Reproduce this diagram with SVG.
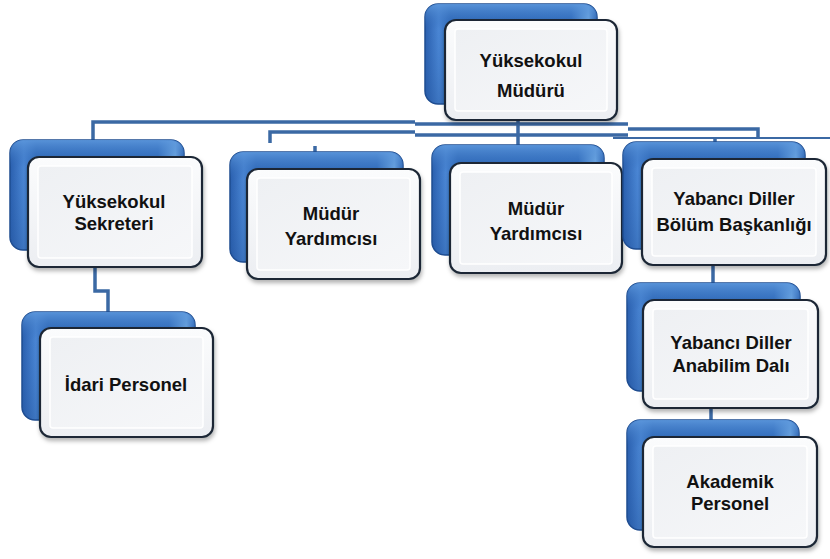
<svg xmlns="http://www.w3.org/2000/svg" width="830" height="559" viewBox="0 0 830 559">
<defs>
<linearGradient id="blue" x1="0" y1="0" x2="1" y2="0">
<stop offset="0" stop-color="#2a5fae"/>
<stop offset="0.08" stop-color="#4a86d4"/>
<stop offset="0.15" stop-color="#2e68b8"/>
<stop offset="0.85" stop-color="#306cbd"/>
<stop offset="0.95" stop-color="#7db8ee"/>
<stop offset="1" stop-color="#2a5fae"/>
</linearGradient>
<linearGradient id="blueTop" x1="0" y1="0" x2="0" y2="1">
<stop offset="0" stop-color="#5c97dc" stop-opacity="0.9"/>
<stop offset="0.25" stop-color="#2f68b6" stop-opacity="0"/>
<stop offset="1" stop-color="#1d4c92" stop-opacity="0.3"/>
</linearGradient>
<linearGradient id="white" x1="0" y1="0" x2="0" y2="1">
<stop offset="0" stop-color="#fbfcfd"/>
<stop offset="1" stop-color="#eceef2"/>
</linearGradient>
<linearGradient id="inner" x1="0" y1="0" x2="1" y2="1">
<stop offset="0" stop-color="#eef0f3"/>
<stop offset="1" stop-color="#f6f7f9"/>
</linearGradient>
<filter id="sh" x="-10%" y="-10%" width="125%" height="130%">
<feDropShadow dx="1" dy="3" stdDeviation="2" flood-color="#000" flood-opacity="0.3"/>
</filter>
</defs>
<style>
.back{fill:url(#blue);stroke:#1e4c90;stroke-width:1.5}
.backhl{fill:url(#blueTop)}
.front{fill:url(#white);stroke:#1c2836;stroke-width:2.2;filter:url(#sh)}
.bevel{fill:url(#inner);stroke:#ffffff;stroke-width:1.5}
.t{font-family:"Liberation Sans",Arial,sans-serif;font-weight:bold;font-size:18.5px;fill:#111;text-anchor:middle}
.c{fill:none;stroke:#3b69a4;stroke-width:3.5}
.c2{fill:none;stroke:#3b69a4;stroke-width:2}
</style>
<g id="connectors">
<path class="c" d="M93,142 V122 H415"/>
<path class="c" d="M415,124 H628"/>
<path class="c" d="M270,143 V132 H415"/>
<path class="c" d="M415,135 H628"/>
<path class="c" d="M628,129 H758 V137"/>
<path class="c2" d="M613,138 H830"/>
<path class="c" d="M518,118 V146"/>
<path class="c" d="M715,138 V143"/>
<path class="c" d="M315,146 V153"/>
<path class="c" d="M95,266 V291 H108 V313"/>
<path class="c" d="M713,264 V284"/>
<path class="c" d="M711,407 V421"/>
</g>
<g id="n_mudur">
<rect class="back" x="425" y="4" width="172" height="100" rx="13"/>
<rect class="backhl" x="425" y="4" width="172" height="100" rx="13"/>
<rect class="front" x="445" y="20" width="172" height="100" rx="11"/>
<rect class="bevel" x="455" y="29" width="152" height="82" rx="3"/>
<text class="t" x="531" y="67">Yüksekokul</text>
<text class="t" x="531" y="97">Müdürü</text>
</g>
<g id="n_sekreter">
<rect class="back" x="10" y="140" width="174" height="110" rx="13"/>
<rect class="backhl" x="10" y="140" width="174" height="110" rx="13"/>
<rect class="front" x="28" y="157" width="174" height="110" rx="11"/>
<rect class="bevel" x="38" y="166" width="154" height="92" rx="3"/>
<text class="t" x="114" y="208">Yüksekokul</text>
<text class="t" x="114" y="230">Sekreteri</text>
</g>
<g id="n_yard1">
<rect class="back" x="230" y="152" width="173" height="110" rx="13"/>
<rect class="backhl" x="230" y="152" width="173" height="110" rx="13"/>
<rect class="front" x="247" y="169" width="173" height="110" rx="11"/>
<rect class="bevel" x="257" y="178" width="153" height="92" rx="3"/>
<text class="t" x="331" y="220">Müdür</text>
<text class="t" x="331" y="245">Yardımcısı</text>
</g>
<g id="n_yard2">
<rect class="back" x="432" y="145" width="172" height="110" rx="13"/>
<rect class="backhl" x="432" y="145" width="172" height="110" rx="13"/>
<rect class="front" x="450" y="163" width="172" height="110" rx="11"/>
<rect class="bevel" x="460" y="172" width="152" height="92" rx="3"/>
<text class="t" x="536" y="215">Müdür</text>
<text class="t" x="536" y="240">Yardımcısı</text>
</g>
<g id="n_bolum">
<rect class="back" x="623" y="142" width="182" height="107" rx="13"/>
<rect class="backhl" x="623" y="142" width="182" height="107" rx="13"/>
<rect class="front" x="642" y="159" width="184" height="106" rx="11"/>
<rect class="bevel" x="652" y="168" width="164" height="88" rx="3"/>
<text class="t" x="734" y="205">Yabancı Diller</text>
<text class="t" x="734" y="231">Bölüm Başkanlığı</text>
</g>
<g id="n_idari">
<rect class="back" x="22" y="312" width="173" height="108" rx="13"/>
<rect class="backhl" x="22" y="312" width="173" height="108" rx="13"/>
<rect class="front" x="40" y="328" width="173" height="109" rx="11"/>
<rect class="bevel" x="50" y="337" width="153" height="91" rx="3"/>
<text class="t" x="126" y="391">İdari Personel</text>
</g>
<g id="n_anabilim">
<rect class="back" x="627" y="283" width="173" height="108" rx="13"/>
<rect class="backhl" x="627" y="283" width="173" height="108" rx="13"/>
<rect class="front" x="643" y="300" width="175" height="108" rx="11"/>
<rect class="bevel" x="653" y="309" width="155" height="90" rx="3"/>
<text class="t" x="731" y="349">Yabancı Diller</text>
<text class="t" x="731" y="372">Anabilim Dalı</text>
</g>
<g id="n_akademik">
<rect class="back" x="627" y="420" width="172" height="110" rx="13"/>
<rect class="backhl" x="627" y="420" width="172" height="110" rx="13"/>
<rect class="front" x="643" y="437" width="174" height="110" rx="11"/>
<rect class="bevel" x="653" y="446" width="154" height="92" rx="3"/>
<text class="t" x="730" y="488">Akademik</text>
<text class="t" x="730" y="510">Personel</text>
</g>
</svg>
